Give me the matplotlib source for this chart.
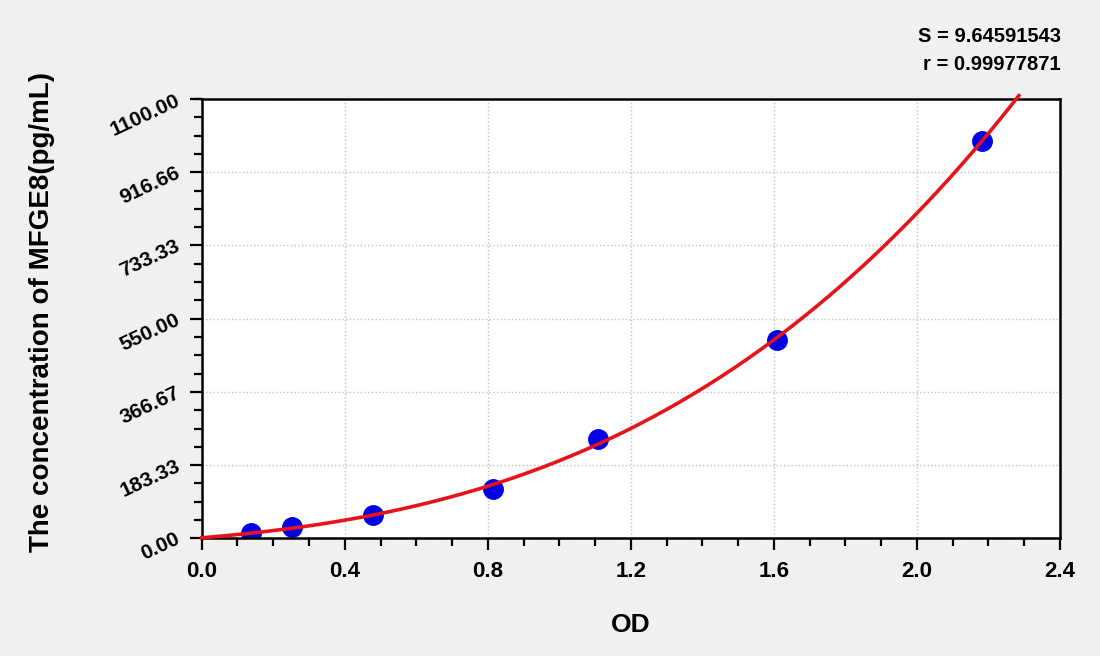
import numpy as np
import matplotlib
matplotlib.use("Agg")
import matplotlib.pyplot as plt
from matplotlib.ticker import AutoMinorLocator

# standard points (OD vs concentration)
od_values = [0.138, 0.252, 0.478, 0.814, 1.107, 1.608, 2.182]
conc_values = [14.0, 28.0, 58.0, 123.0, 249.0, 497.0, 996.0]

y_ticks = [0.0, 183.33, 366.67, 550.0, 733.33, 916.66, 1100.0]
y_tick_labels = ["0.00", "183.33", "366.67", "550.00", "733.33", "916.66", "1100.00"]
x_ticks = [0.0, 0.4, 0.8, 1.2, 1.6, 2.0, 2.4]

stat_s = "S = 9.64591543"
stat_r = "r = 0.99977871"

plt.rcParams['font.family'] = ['Liberation Sans', 'DejaVu Sans']
plt.rcParams['font.weight'] = 'bold'

fig = plt.figure(figsize=(11, 6.56), dpi=100, facecolor='#f0f0f0')
ax = fig.add_axes([0.1834, 0.1794, 0.9636 - 0.1834, 0.849 - 0.1794])
ax.set_facecolor('white')

# fitted curve (cubic through the standards)
coef = np.polyfit([0.0] + od_values, [0.0] + conc_values, 3)
xs = np.linspace(0.0, 2.285, 300)
ax.plot(xs, np.polyval(coef, xs), color='#e6141a', lw=2.6, clip_on=False, zorder=3)

ax.plot(od_values, conc_values, 'o', color='#0000e6', markersize=14, zorder=2)

ax.set_xlim(0, 2.4)
ax.set_ylim(0, 1100)
ax.set_xticks(x_ticks)
ax.set_xticklabels([f"{v:.1f}" for v in x_ticks], fontsize=16)
ax.set_yticks(y_ticks)
ax.set_yticklabels(y_tick_labels, rotation=25, ha='right', va='center',
                   rotation_mode='anchor', fontsize=15)
ax.xaxis.set_minor_locator(AutoMinorLocator(4))
ax.yaxis.set_minor_locator(AutoMinorLocator(4))

ax.tick_params(which='major', direction='out', length=8.5, width=1.6, pad=8)
ax.tick_params(which='minor', direction='out', length=5.5, width=1.6)
for sp in ax.spines.values():
    sp.set_linewidth(1.8)

ax.grid(True, which='major', linestyle=':', color='#c0c0c0', lw=1)
ax.set_axisbelow(True)

ax.set_xlabel("OD", fontsize=19, fontweight='bold')
ax.xaxis.set_label_coords(0.5, -0.170)
ax.set_ylabel("The concentration of MFGE8(pg/mL)", fontsize=20,
              fontweight='bold')
ax.yaxis.set_label_coords(-0.171, 0.515)

fig.text(0.9645, 1 - 36 / 656, stat_s, ha='right', va='center', fontsize=14.5,
         fontweight='bold')
fig.text(0.9645, 1 - 64 / 656, stat_r, ha='right', va='center', fontsize=14.5,
         fontweight='bold')

fig.savefig("out.png", dpi=100, facecolor=fig.get_facecolor())
